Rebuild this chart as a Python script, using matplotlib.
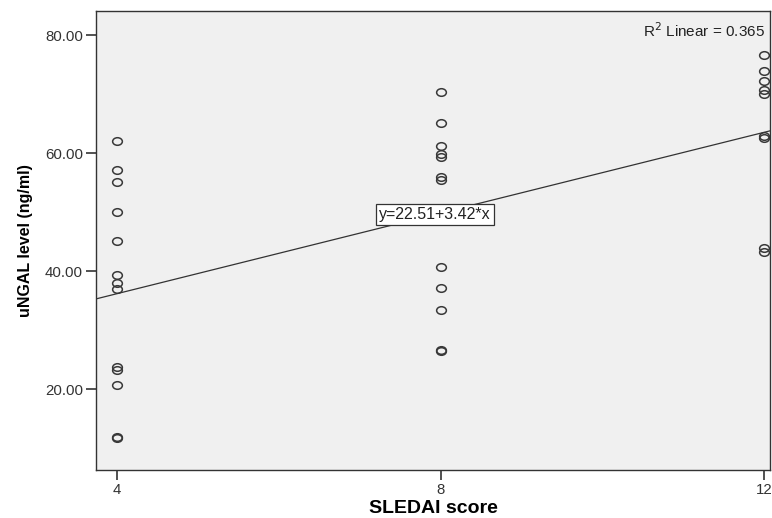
import numpy as np
import matplotlib.pyplot as plt
from matplotlib.markers import MarkerStyle
from matplotlib.transforms import Affine2D

plt.rcParams['font.family'] = ['Liberation Sans', 'DejaVu Sans']

# SLEDAI score groups and uNGAL readings (ng/ml)
sledai_4 = [62.0, 57.2, 55.1, 50.1, 45.2, 39.4, 38.0, 36.9, 23.8, 23.3, 20.7, 11.9, 11.8]
sledai_8 = [70.4, 65.1, 61.3, 59.9, 59.3, 56.0, 55.5, 40.7, 37.2, 33.5, 26.7, 26.4]
sledai_12 = [76.6, 74.0, 72.2, 70.7, 70.1, 62.9, 62.5, 44.0, 43.2]

# fitted line reported on the chart
intercept = 22.51
slope = 3.42
r_squared = 0.365

x_ticks = [4, 8, 12]
y_ticks = [20, 40, 60, 80]

fig = plt.figure(figsize=(7.72, 5.18), dpi=100)
ax = fig.add_axes([0.1244, 0.0927, 0.873, 0.886])
ax.set_facecolor('#f0f0f0')

# slightly flattened open circles
ring = MarkerStyle('o', fillstyle='none', transform=Affine2D().scale(1.0, 0.78))

xs = np.concatenate([np.full(len(sledai_4), 4), np.full(len(sledai_8), 8), np.full(len(sledai_12), 12)])
ys = np.concatenate([sledai_4, sledai_8, sledai_12])
ax.plot(xs, ys, linestyle='none', marker=ring, markersize=7, markerfacecolor='none',
        markeredgecolor='#383838', markeredgewidth=1.1)

xlim = (3.74, 12.07)
ax.set_xlim(*xlim)
ax.set_ylim(6.3, 84.1)
line_x = np.array(xlim)
ax.plot(line_x, intercept + slope * line_x, color='#333333', linewidth=0.9)

ax.text(7.93, intercept + slope * 7.93, 'y=%.2f+%.2f*x' % (intercept, slope),
        ha='center', va='center', fontsize=11.5, color='#222222',
        bbox=dict(boxstyle='square,pad=0.18', facecolor='white', edgecolor='#333333', linewidth=0.9))
ax.text(0.992, 0.958, 'R$^2$ Linear = %.3f' % r_squared, transform=ax.transAxes,
        ha='right', va='center', fontsize=11, color='#222222')

ax.set_xticks(x_ticks)
ax.set_xticklabels([str(t) for t in x_ticks])
ax.set_yticks(y_ticks)
ax.set_yticklabels(['%.2f' % t for t in y_ticks])
ax.tick_params(direction='out', length=7, width=1.2, color='#333333', labelsize=10.8,
               labelcolor='#333333', pad=2.5)

for sp in ax.spines.values():
    sp.set_color('#333333')
    sp.set_linewidth(1.0)

ax.set_xlabel('SLEDAI score', fontsize=14, fontweight='bold')
ax.set_ylabel('uNGAL level (ng/ml)', fontsize=11.5, fontweight='bold')
ax.xaxis.set_label_coords(0.5, -0.066)
ax.yaxis.set_label_coords(-0.0935, 0.5)

fig.savefig('out.png', dpi=100)
